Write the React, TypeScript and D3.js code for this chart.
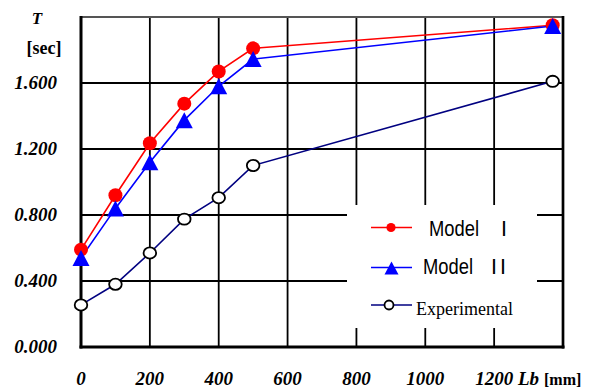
import React from 'react';
import * as d3 from 'd3';

// beam length Lb [mm] and period T [sec]
const lengths = [0, 100, 200, 300, 400, 500, 1370];
const modelI = [0.59, 0.92, 1.235, 1.475, 1.67, 1.81, 1.95];
const modelII = [0.54, 0.84, 1.12, 1.375, 1.58, 1.745, 1.945];
const experimental = [0.255, 0.38, 0.57, 0.775, 0.905, 1.1, 1.61];

const xTicks = [0, 200, 400, 600, 800, 1000, 1200];
const yTicks = [0, 0.4, 0.8, 1.2, 1.6];
const xGrid = [200, 400, 600, 800, 1000, 1200];
const yGrid = [0.4, 0.8, 1.2, 1.6];

const W = 592;
const H = 390;
const tickFont = '"Liberation Serif", "Times New Roman", serif';
const sansFont = '"Liberation Sans", Arial, sans-serif';

const x = d3.scaleLinear().domain([0, 1400]).range([81, 563]);
const y = d3.scaleLinear().domain([0, 2.0]).range([347, 17]);
const fmt = d3.format('.3f');

const line = d3.line<number>()
  .x((_, i) => x(lengths[i]))
  .y(d => y(d));

const tri = (cx: number, cy: number, w: number, h: number) =>
  `M${cx},${cy - h / 2}L${cx + w / 2},${cy + h / 2}L${cx - w / 2},${cy + h / 2}Z`;

const App: React.FC = () => {
  return (
    <svg width={W} height={H} style={{ position: 'absolute', left: 0, top: 0, background: '#fff' }}>
      <rect width={W} height={H} fill="#fff" />

      {/* grid */}
      {xGrid.map(v => (
        <line key={'gx' + v} x1={x(v)} x2={x(v)} y1={y(2)} y2={y(0)} stroke="#000" strokeWidth={1.8} />
      ))}
      {yGrid.map(v => (
        <line key={'gy' + v} x1={x(0)} x2={x(1400)} y1={y(v)} y2={y(v)} stroke="#000" strokeWidth={1.8} />
      ))}

      {/* legend background hides the grid */}
      <rect x={347} y={205} width={190} height={123} fill="#fff" />

      {/* frame */}
      <line x1={x(0)} x2={x(1400)} y1={y(2)} y2={y(2)} stroke="#555" strokeWidth={2} />
      <line x1={x(0)} x2={x(0)} y1={y(2) - 1} y2={y(0) + 1.5} stroke="#000" strokeWidth={3} />
      <line x1={x(0) - 1.5} x2={x(1400) + 1.5} y1={y(0)} y2={y(0)} stroke="#000" strokeWidth={3} />
      <line x1={x(1400)} x2={x(1400)} y1={y(2) - 1} y2={y(0) + 1.5} stroke="#000" strokeWidth={2.7} />

      {/* series lines */}
      <path d={line(experimental) ?? ''} fill="none" stroke="#000080" strokeWidth={1.6} />
      <path d={line(modelI) ?? ''} fill="none" stroke="#ff0000" strokeWidth={1.6} />
      <path d={line(modelII) ?? ''} fill="none" stroke="#0000ff" strokeWidth={1.6} />

      {/* markers */}
      {modelI.map((v, i) => (
        <circle key={'m1' + i} cx={x(lengths[i])} cy={y(v)} r={7} fill="#ff0000" />
      ))}
      {modelII.map((v, i) => (
        <path key={'m2' + i} d={tri(x(lengths[i]), y(v), 17, 16)} fill="#0000ff" />
      ))}
      {experimental.map((v, i) => (
        <ellipse key={'ex' + i} cx={x(lengths[i])} cy={y(v)} rx={6.3} ry={5.6} fill="#fff" stroke="#000" strokeWidth={1.8} />
      ))}

      {/* y tick labels */}
      {yTicks.map(v => (
        <text key={'yt' + v} x={57} y={y(v)} dy="0.33em" textAnchor="end"
          fontFamily={tickFont} fontWeight="bold" fontStyle="italic" fontSize={19}>{fmt(v)}</text>
      ))}
      <text x={37} y={24} textAnchor="middle" fontFamily={tickFont} fontWeight="bold" fontStyle="italic" fontSize={17}>T</text>
      <text x={44} y={54} textAnchor="middle" fontFamily={tickFont} fontWeight="bold" fontSize={18}>[sec]</text>

      {/* x tick labels */}
      {xTicks.map(v => (
        <text key={'xt' + v} x={x(v)} y={385} textAnchor="middle"
          fontFamily={tickFont} fontWeight="bold" fontStyle="italic" fontSize={19}>{v}</text>
      ))}
      <text x={518} y={385} fontFamily={tickFont} fontWeight="bold" fontStyle="italic" fontSize={19}>Lb</text>
      <text x={544} y={385} fontFamily={tickFont} fontWeight="bold" fontSize={16}>[mm]</text>

      {/* legend */}
      <g>
        <line x1={371} x2={412} y1={227.5} y2={227.5} stroke="#ff0000" strokeWidth={1.6} />
        <circle cx={391} cy={227.5} r={4.6} fill="#ff0000" />
        <text x={429} y={236} fontFamily={sansFont} fontSize={21.5} textLength={50} lengthAdjust="spacingAndGlyphs">Model</text>
        <text x={501} y={236} fontFamily={sansFont} fontSize={21.5}>I</text>

        <line x1={371} x2={412} y1={267.5} y2={267.5} stroke="#0000ff" strokeWidth={1.6} />
        <path d={tri(391.5, 268, 14, 13)} fill="#0000ff" />
        <text x={423} y={273.5} fontFamily={sansFont} fontSize={21.5} textLength={50} lengthAdjust="spacingAndGlyphs">Model</text>
        <text x={491} y={273.5} fontFamily={sansFont} fontSize={21.5} textLength={15} lengthAdjust="spacing">II</text>

        <line x1={371} x2={412} y1={305} y2={305} stroke="#000080" strokeWidth={1.6} />
        <circle cx={389} cy={305} r={4.5} fill="#fff" stroke="#000" strokeWidth={1.8} />
        <text x={416} y={315} fontFamily={tickFont} fontSize={18}>Experimental</text>
      </g>
    </svg>
  );
};

export default App;
